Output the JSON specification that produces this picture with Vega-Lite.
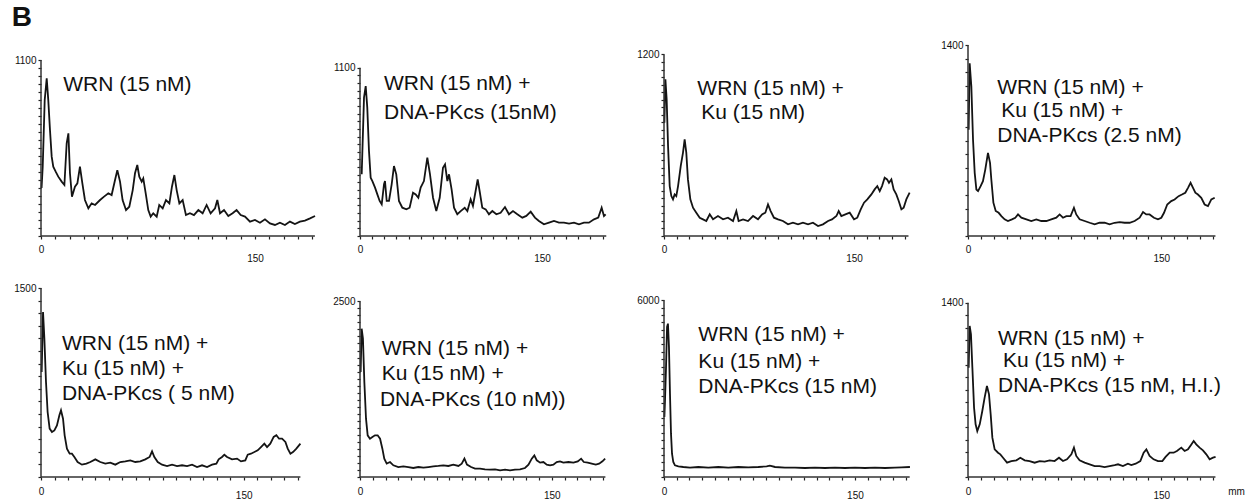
{
"$schema": "https://vega.github.io/schema/vega-lite/v6.json",
"padding": {"left": 11, "top": 4, "right": 0, "bottom": 0},
"title": {"text": "B", "anchor": "start", "fontSize": 28, "fontWeight": "bold", "font": "Liberation Sans", "color": "#111", "offset": 8, "dx": -2},
"config": {
  "view": {"stroke": null},
  "axis": {"domain": false, "grid": false, "tickColor": "#222", "tickSize": 3, "tickWidth": 1.2, "labelFont": "Liberation Sans", "labelFontSize": 10, "labelColor": "#111", "labelOverlap": false, "labelBound": false, "labelFlush": false},
  "line": {"color": "#141414", "strokeWidth": 1.8},
  "rule": {"color": "#333", "strokeWidth": 1.5},
  "text": {"font": "Liberation Sans", "fontSize": 21, "color": "#111", "align": "left", "baseline": "middle"}
},
"columns": 4,
"spacing": {"row": 50, "column": 20},
"bounds": "flush",
"align": "each",
"concat": [
 {"width": 299, "height": 191,
  "encoding": {
    "x": {"field": "mm", "type": "quantitative", "scale": {"domain": [0, 209.6], "nice": false}, "axis": {"title": null, "values": [0,10,20,30,40,50,60,70,80,90,100,110,120,130,140,150,160,170,180,190], "labelExpr": "datum.value == 0 || datum.value == 150 ? datum.label : ''", "labelPadding": {"condition": {"test": "datum.value == 150", "value": 14}, "value": 5}}},
    "y": {"field": "v", "type": "quantitative", "scale": {"domain": [0, 1194], "nice": false}, "axis": {"title": null, "values": [0,50,100,150,200,250,300,350,400,450,500,550,600,650,700,750,800,850,900,950,1000,1050,1100], "labelExpr": "datum.value == 1100 ? '1100' : ''", "labelPadding": 2}}},
  "layer": [
   {"data": {"name": "p1"}, "mark": "line"},
   {"data": {"name": "frames"}, "transform": [{"filter": "datum.panel == 1 && datum.kind == 'x'"}], "mark": "rule", "encoding": {"x2": {"field": "mm2"}}},
   {"data": {"name": "frames"}, "transform": [{"filter": "datum.panel == 1 && datum.kind == 'y'"}], "mark": "rule", "encoding": {"y2": {"field": "v2"}}},
   {"data": {"name": "labels"}, "transform": [{"filter": "datum.panel == 1"}], "mark": "text", "encoding": {"text": {"field": "t"}}}
  ]},
 {"width": 284, "height": 191,
  "encoding": {
    "x": {"field": "mm", "type": "quantitative", "scale": {"domain": [0, 234.1], "nice": false}, "axis": {"title": null, "values": [0,10,20,30,40,50,60,70,80,90,100,110,120,130,140,150,160,170,180,190,200], "labelExpr": "datum.value == 0 || datum.value == 150 ? datum.label : ''", "labelPadding": {"condition": {"test": "datum.value == 150", "value": 14}, "value": 5}}},
    "y": {"field": "v", "type": "quantitative", "scale": {"domain": [0, 1248], "nice": false}, "axis": {"title": null, "values": [0,50,100,150,200,250,300,350,400,450,500,550,600,650,700,750,800,850,900,950,1000,1050,1100], "labelExpr": "datum.value == 1100 ? '1100' : ''", "labelPadding": 2}}},
  "layer": [
   {"data": {"name": "p2"}, "mark": "line"},
   {"data": {"name": "frames"}, "transform": [{"filter": "datum.panel == 2 && datum.kind == 'x'"}], "mark": "rule", "encoding": {"x2": {"field": "mm2"}}},
   {"data": {"name": "frames"}, "transform": [{"filter": "datum.panel == 2 && datum.kind == 'y'"}], "mark": "rule", "encoding": {"y2": {"field": "v2"}}},
   {"data": {"name": "labels"}, "transform": [{"filter": "datum.panel == 2"}], "mark": "text", "encoding": {"text": {"field": "t"}}}
  ]},
 {"width": 284, "height": 191,
  "encoding": {
    "x": {"field": "mm", "type": "quantitative", "scale": {"domain": [0, 224.2], "nice": false}, "axis": {"title": null, "values": [0,10,20,30,40,50,60,70,80,90,100,110,120,130,140,150,160,170,180,190], "labelExpr": "datum.value == 0 || datum.value == 150 ? datum.label : ''", "labelPadding": {"condition": {"test": "datum.value == 150", "value": 14}, "value": 5}}},
    "y": {"field": "v", "type": "quantitative", "scale": {"domain": [0, 1262], "nice": false}, "axis": {"title": null, "values": [0,50,100,150,200,250,300,350,400,450,500,550,600,650,700,750,800,850,900,950,1000,1050,1100,1150,1200], "labelExpr": "datum.value == 1200 ? '1200' : ''", "labelPadding": 2}}},
  "layer": [
   {"data": {"name": "p3"}, "mark": "line"},
   {"data": {"name": "frames"}, "transform": [{"filter": "datum.panel == 3 && datum.kind == 'x'"}], "mark": "rule", "encoding": {"x2": {"field": "mm2"}}},
   {"data": {"name": "frames"}, "transform": [{"filter": "datum.panel == 3 && datum.kind == 'y'"}], "mark": "rule", "encoding": {"y2": {"field": "v2"}}},
   {"data": {"name": "labels"}, "transform": [{"filter": "datum.panel == 3"}], "mark": "text", "encoding": {"text": {"field": "t"}}}
  ]},
 {"width": 270, "height": 191,
  "encoding": {
    "x": {"field": "mm", "type": "quantitative", "scale": {"domain": [0, 209.5], "nice": false}, "axis": {"title": null, "values": [0,10,20,30,40,50,60,70,80,90,100,110,120,130,140,150,160,170,180,190], "labelExpr": "datum.value == 0 || datum.value == 150 ? datum.label : ''", "labelPadding": {"condition": {"test": "datum.value == 150", "value": 14}, "value": 5}}},
    "y": {"field": "v", "type": "quantitative", "scale": {"domain": [0, 1400], "nice": false}, "axis": {"title": null, "values": [0,100,200,300,400,500,600,700,800,900,1000,1100,1200,1300,1400], "labelExpr": "datum.value == 1400 ? '1400' : ''", "labelPadding": 2}}},
  "layer": [
   {"data": {"name": "p4"}, "mark": "line"},
   {"data": {"name": "frames"}, "transform": [{"filter": "datum.panel == 4 && datum.kind == 'x'"}], "mark": "rule", "encoding": {"x2": {"field": "mm2"}}},
   {"data": {"name": "frames"}, "transform": [{"filter": "datum.panel == 4 && datum.kind == 'y'"}], "mark": "rule", "encoding": {"y2": {"field": "v2"}}},
   {"data": {"name": "labels"}, "transform": [{"filter": "datum.panel == 4"}], "mark": "text", "encoding": {"text": {"field": "t"}}}
  ]},
 {"width": 299, "height": 191,
  "encoding": {
    "x": {"field": "mm", "type": "quantitative", "scale": {"domain": [0, 221.3], "nice": false}, "axis": {"title": null, "values": [0,10,20,30,40,50,60,70,80,90,100,110,120,130,140,150,160,170,180,190], "labelExpr": "datum.value == 0 || datum.value == 150 ? datum.label : ''", "labelPadding": {"condition": {"test": "datum.value == 150", "value": 10}, "value": 6}}},
    "y": {"field": "v", "type": "quantitative", "scale": {"domain": [0, 1516], "nice": false}, "axis": {"title": null, "values": [0,100,200,300,400,500,600,700,800,900,1000,1100,1200,1300,1400,1500], "labelExpr": "datum.value == 1500 ? '1500' : ''", "labelPadding": 2}}},
  "layer": [
   {"data": {"name": "p5"}, "mark": "line"},
   {"data": {"name": "frames"}, "transform": [{"filter": "datum.panel == 5 && datum.kind == 'x'"}], "mark": "rule", "encoding": {"x2": {"field": "mm2"}}},
   {"data": {"name": "frames"}, "transform": [{"filter": "datum.panel == 5 && datum.kind == 'y'"}], "mark": "rule", "encoding": {"y2": {"field": "v2"}}},
   {"data": {"name": "labels"}, "transform": [{"filter": "datum.panel == 5"}], "mark": "text", "encoding": {"text": {"field": "t"}}}
  ]},
 {"width": 284, "height": 191,
  "encoding": {
    "x": {"field": "mm", "type": "quantitative", "scale": {"domain": [0, 222.2], "nice": false}, "axis": {"title": null, "values": [0,10,20,30,40,50,60,70,80,90,100,110,120,130,140,150,160,170,180,190], "labelExpr": "datum.value == 0 || datum.value == 150 ? datum.label : ''", "labelPadding": {"condition": {"test": "datum.value == 150", "value": 10}, "value": 6}}},
    "y": {"field": "v", "type": "quantitative", "scale": {"domain": [0, 2718], "nice": false}, "axis": {"title": null, "values": [0,100,200,300,400,500,600,700,800,900,1000,1100,1200,1300,1400,1500,1600,1700,1800,1900,2000,2100,2200,2300,2400,2500], "labelExpr": "datum.value == 2500 ? '2500' : ''", "labelPadding": 2}}},
  "layer": [
   {"data": {"name": "p6"}, "mark": "line"},
   {"data": {"name": "frames"}, "transform": [{"filter": "datum.panel == 6 && datum.kind == 'x'"}], "mark": "rule", "encoding": {"x2": {"field": "mm2"}}},
   {"data": {"name": "frames"}, "transform": [{"filter": "datum.panel == 6 && datum.kind == 'y'"}], "mark": "rule", "encoding": {"y2": {"field": "v2"}}},
   {"data": {"name": "labels"}, "transform": [{"filter": "datum.panel == 6"}], "mark": "text", "encoding": {"text": {"field": "t"}}}
  ]},
 {"width": 284, "height": 191,
  "encoding": {
    "x": {"field": "mm", "type": "quantitative", "scale": {"domain": [0, 223.1], "nice": false}, "axis": {"title": null, "values": [0,10,20,30,40,50,60,70,80,90,100,110,120,130,140,150,160,170,180,190], "labelExpr": "datum.value == 0 || datum.value == 150 ? datum.label : ''", "labelPadding": {"condition": {"test": "datum.value == 150", "value": 10}, "value": 6}}},
    "y": {"field": "v", "type": "quantitative", "scale": {"domain": [0, 6486], "nice": false}, "axis": {"title": null, "values": [0,250,500,750,1000,1250,1500,1750,2000,2250,2500,2750,3000,3250,3500,3750,4000,4250,4500,4750,5000,5250,5500,5750,6000], "labelExpr": "datum.value == 6000 ? '6000' : ''", "labelPadding": 2}}},
  "layer": [
   {"data": {"name": "p7"}, "mark": "line"},
   {"data": {"name": "frames"}, "transform": [{"filter": "datum.panel == 7 && datum.kind == 'x'"}], "mark": "rule", "encoding": {"x2": {"field": "mm2"}}},
   {"data": {"name": "frames"}, "transform": [{"filter": "datum.panel == 7 && datum.kind == 'y'"}], "mark": "rule", "encoding": {"y2": {"field": "v2"}}},
   {"data": {"name": "labels"}, "transform": [{"filter": "datum.panel == 7"}], "mark": "text", "encoding": {"text": {"field": "t"}}}
  ]},
 {"width": 270, "height": 191,
  "encoding": {
    "x": {"field": "mm", "type": "quantitative", "scale": {"domain": [0, 209.5], "nice": false}, "axis": {"title": "mm", "titleX": 268, "titleY": 14, "titleAlign": "center", "titleBaseline": "middle", "titleFontSize": 10, "titleFontWeight": "normal", "titleFont": "Liberation Sans", "titleColor": "#111", "values": [0,10,20,30,40,50,60,70,80,90,100,110,120,130,140,150,160,170,180,190], "labelExpr": "datum.value == 0 || datum.value == 150 ? datum.label : ''", "labelPadding": {"condition": {"test": "datum.value == 150", "value": 10}, "value": 6}}},
    "y": {"field": "v", "type": "quantitative", "scale": {"domain": [0, 1534], "nice": false}, "axis": {"title": null, "values": [0,100,200,300,400,500,600,700,800,900,1000,1100,1200,1300,1400], "labelExpr": "datum.value == 1400 ? '1400' : ''", "labelPadding": 2}}},
  "layer": [
   {"data": {"name": "p8"}, "mark": "line"},
   {"data": {"name": "frames"}, "transform": [{"filter": "datum.panel == 8 && datum.kind == 'x'"}], "mark": "rule", "encoding": {"x2": {"field": "mm2"}}},
   {"data": {"name": "frames"}, "transform": [{"filter": "datum.panel == 8 && datum.kind == 'y'"}], "mark": "rule", "encoding": {"y2": {"field": "v2"}}},
   {"data": {"name": "labels"}, "transform": [{"filter": "datum.panel == 8"}], "mark": "text", "encoding": {"text": {"field": "t"}}}
  ]}
],
"datasets": {
 "frames": [
  {"panel":1,"kind":"x","mm":0,"mm2":192,"v":0},{"panel":1,"kind":"y","mm":0,"v":0,"v2":1100},
  {"panel":2,"kind":"x","mm":0,"mm2":203,"v":0},{"panel":2,"kind":"y","mm":0,"v":0,"v2":1100},
  {"panel":3,"kind":"x","mm":0,"mm2":193,"v":0},{"panel":3,"kind":"y","mm":0,"v":0,"v2":1200},
  {"panel":4,"kind":"x","mm":0,"mm2":192,"v":0},{"panel":4,"kind":"y","mm":0,"v":0,"v2":1400},
  {"panel":5,"kind":"x","mm":0,"mm2":192,"v":0},{"panel":5,"kind":"y","mm":0,"v":0,"v2":1500},
  {"panel":6,"kind":"x","mm":0,"mm2":192,"v":0},{"panel":6,"kind":"y","mm":0,"v":0,"v2":2500},
  {"panel":7,"kind":"x","mm":0,"mm2":193,"v":0},{"panel":7,"kind":"y","mm":0,"v":0,"v2":6000},
  {"panel":8,"kind":"x","mm":0,"mm2":192,"v":0},{"panel":8,"kind":"y","mm":0,"v":0,"v2":1400}
 ],
 "labels": [
  {"panel":1,"mm":15.6,"v":944,"t":"WRN (15 nM)"},
  {"panel":2,"mm":19.8,"v":993,"t":"WRN (15 nM) +"},
  {"panel":2,"mm":19.8,"v":804,"t":"DNA-PKcs (15nM)"},
  {"panel":3,"mm":26.3,"v":969,"t":"WRN (15 nM) +"},
  {"panel":3,"mm":29.4,"v":811,"t":"Ku (15 nM)"},
  {"panel":4,"mm":22.7,"v":1084,"t":"WRN (15 nM) +"},
  {"panel":4,"mm":25.8,"v":913,"t":"Ku (15 nM) +"},
  {"panel":4,"mm":22.7,"v":736,"t":"DNA-PKcs (2.5 nM)"},
  {"panel":5,"mm":15.5,"v":1058,"t":"WRN (15 nM) +"},
  {"panel":5,"mm":15.5,"v":860,"t":"Ku (15 nM) +"},
  {"panel":5,"mm":15.5,"v":661,"t":"DNA-PKcs ( 5 nM)"},
  {"panel":6,"mm":17.0,"v":1817,"t":"WRN (15 nM) +"},
  {"panel":6,"mm":17.0,"v":1470,"t":"Ku (15 nM) +"},
  {"panel":6,"mm":15.6,"v":1091,"t":"DNA-PKcs (10 nM))"},
  {"panel":7,"mm":27.0,"v":4812,"t":"WRN (15 nM) +"},
  {"panel":7,"mm":27.0,"v":3905,"t":"Ku (15 nM) +"},
  {"panel":7,"mm":27.0,"v":3056,"t":"DNA-PKcs (15 nM)"},
  {"panel":8,"mm":23.3,"v":1105,"t":"WRN (15 nM) +"},
  {"panel":8,"mm":27.2,"v":931,"t":"Ku (15 nM) +"},
  {"panel":8,"mm":23.3,"v":731,"t":"DNA-PKcs (15 nM, H.I.)"}
 ],
 "p1": [
  {"mm":0.4,"v":300},{"mm":1.2,"v":433},{"mm":2.6,"v":850},{"mm":4.0,"v":985},{"mm":5.1,"v":850},{"mm":6.3,"v":662},{"mm":7.5,"v":496},{"mm":8.6,"v":433},{"mm":10.3,"v":402},{"mm":12.1,"v":371},{"mm":14.5,"v":340},{"mm":16.4,"v":319},{"mm":18.0,"v":579},{"mm":19.2,"v":642},{"mm":20.3,"v":392},{"mm":21.7,"v":246},{"mm":23.8,"v":308},{"mm":25.5,"v":329},{"mm":27.3,"v":433},{"mm":29.0,"v":329},{"mm":30.8,"v":225},{"mm":33.2,"v":173},{"mm":35.5,"v":204},{"mm":37.9,"v":194},{"mm":41.4,"v":225},{"mm":44.2,"v":246},{"mm":47.2,"v":267},{"mm":49.5,"v":256},{"mm":51.9,"v":350},{"mm":53.5,"v":412},{"mm":55.4,"v":340},{"mm":57.2,"v":225},{"mm":59.6,"v":162},{"mm":61.9,"v":183},{"mm":64.3,"v":287},{"mm":65.9,"v":392},{"mm":67.5,"v":444},{"mm":68.9,"v":371},{"mm":70.6,"v":340},{"mm":71.7,"v":360},{"mm":73.4,"v":267},{"mm":75.2,"v":162},{"mm":76.9,"v":121},{"mm":78.7,"v":142},{"mm":81.1,"v":121},{"mm":82.9,"v":194},{"mm":85.3,"v":173},{"mm":87.6,"v":225},{"mm":90.0,"v":204},{"mm":91.8,"v":308},{"mm":93.5,"v":381},{"mm":95.1,"v":287},{"mm":97.0,"v":204},{"mm":99.3,"v":225},{"mm":101.6,"v":131},{"mm":104.4,"v":142},{"mm":107.2,"v":131},{"mm":110.3,"v":162},{"mm":113.3,"v":142},{"mm":116.1,"v":194},{"mm":118.9,"v":142},{"mm":122.0,"v":173},{"mm":123.6,"v":225},{"mm":125.5,"v":142},{"mm":128.3,"v":162},{"mm":131.3,"v":125},{"mm":134.3,"v":142},{"mm":137.1,"v":162},{"mm":140.0,"v":131},{"mm":143.0,"v":121},{"mm":146.5,"v":90},{"mm":150.0,"v":100},{"mm":153.5,"v":83},{"mm":157.0,"v":104},{"mm":160.5,"v":79},{"mm":164.0,"v":69},{"mm":167.5,"v":83},{"mm":171.0,"v":69},{"mm":174.5,"v":90},{"mm":178.0,"v":75},{"mm":181.5,"v":90},{"mm":185.0,"v":96},{"mm":188.6,"v":110},{"mm":192.1,"v":125}
 ],
 "p2": [
  {"mm":1.4,"v":403},{"mm":3.3,"v":904},{"mm":4.7,"v":980},{"mm":6.0,"v":839},{"mm":7.4,"v":556},{"mm":8.8,"v":381},{"mm":10.2,"v":359},{"mm":12.4,"v":316},{"mm":14.3,"v":272},{"mm":16.2,"v":229},{"mm":17.9,"v":207},{"mm":19.8,"v":338},{"mm":20.6,"v":359},{"mm":22.0,"v":229},{"mm":23.9,"v":229},{"mm":26.1,"v":338},{"mm":28.0,"v":457},{"mm":29.9,"v":403},{"mm":32.1,"v":229},{"mm":34.9,"v":185},{"mm":38.2,"v":174},{"mm":40.9,"v":185},{"mm":43.7,"v":283},{"mm":45.9,"v":272},{"mm":48.1,"v":250},{"mm":50.0,"v":316},{"mm":52.7,"v":359},{"mm":55.5,"v":512},{"mm":57.7,"v":403},{"mm":60.2,"v":250},{"mm":62.9,"v":163},{"mm":65.7,"v":250},{"mm":68.4,"v":446},{"mm":70.1,"v":468},{"mm":72.0,"v":359},{"mm":73.4,"v":403},{"mm":75.5,"v":305},{"mm":77.5,"v":185},{"mm":80.2,"v":142},{"mm":83.0,"v":163},{"mm":86.3,"v":185},{"mm":88.5,"v":163},{"mm":91.2,"v":240},{"mm":93.1,"v":196},{"mm":95.3,"v":294},{"mm":97.0,"v":370},{"mm":98.6,"v":294},{"mm":100.8,"v":185},{"mm":103.6,"v":174},{"mm":106.3,"v":142},{"mm":109.1,"v":163},{"mm":112.4,"v":142},{"mm":115.9,"v":152},{"mm":119.5,"v":189},{"mm":122.8,"v":142},{"mm":126.1,"v":163},{"mm":129.7,"v":142},{"mm":133.8,"v":120},{"mm":137.1,"v":131},{"mm":140.7,"v":159},{"mm":144.2,"v":120},{"mm":147.5,"v":98},{"mm":151.6,"v":76},{"mm":155.8,"v":87},{"mm":159.9,"v":98},{"mm":164.0,"v":87},{"mm":168.1,"v":87},{"mm":172.3,"v":81},{"mm":176.4,"v":87},{"mm":180.5,"v":76},{"mm":184.6,"v":87},{"mm":188.7,"v":87},{"mm":192.9,"v":109},{"mm":196.4,"v":120},{"mm":199.2,"v":185},{"mm":201.1,"v":131},{"mm":202.5,"v":142}
 ],
 "p3": [
  {"mm":0.3,"v":749},{"mm":1.1,"v":1035},{"mm":2.1,"v":903},{"mm":3.2,"v":595},{"mm":4.5,"v":330},{"mm":5.8,"v":264},{"mm":7.1,"v":242},{"mm":8.4,"v":275},{"mm":9.7,"v":264},{"mm":11.1,"v":330},{"mm":13.2,"v":462},{"mm":15.0,"v":551},{"mm":16.3,"v":639},{"mm":17.6,"v":551},{"mm":18.9,"v":374},{"mm":20.8,"v":242},{"mm":22.9,"v":187},{"mm":25.5,"v":154},{"mm":28.2,"v":121},{"mm":30.8,"v":110},{"mm":33.4,"v":99},{"mm":36.1,"v":143},{"mm":38.7,"v":110},{"mm":42.6,"v":132},{"mm":46.6,"v":110},{"mm":50.5,"v":121},{"mm":54.5,"v":99},{"mm":57.1,"v":165},{"mm":58.9,"v":99},{"mm":62.4,"v":110},{"mm":66.3,"v":99},{"mm":70.3,"v":132},{"mm":74.2,"v":110},{"mm":77.4,"v":143},{"mm":80.0,"v":154},{"mm":82.1,"v":209},{"mm":84.2,"v":165},{"mm":86.8,"v":121},{"mm":90.0,"v":110},{"mm":93.9,"v":99},{"mm":97.9,"v":77},{"mm":101.8,"v":88},{"mm":105.8,"v":77},{"mm":109.7,"v":88},{"mm":113.7,"v":77},{"mm":117.6,"v":88},{"mm":121.6,"v":66},{"mm":125.5,"v":77},{"mm":129.5,"v":99},{"mm":132.6,"v":110},{"mm":136.1,"v":132},{"mm":137.9,"v":165},{"mm":140.0,"v":132},{"mm":143.2,"v":143},{"mm":146.6,"v":154},{"mm":150.0,"v":110},{"mm":152.6,"v":121},{"mm":155.3,"v":176},{"mm":157.9,"v":220},{"mm":160.5,"v":242},{"mm":163.7,"v":275},{"mm":166.3,"v":308},{"mm":168.4,"v":330},{"mm":170.3,"v":297},{"mm":172.1,"v":330},{"mm":174.2,"v":385},{"mm":176.1,"v":374},{"mm":177.6,"v":352},{"mm":179.5,"v":374},{"mm":181.3,"v":308},{"mm":183.4,"v":275},{"mm":185.3,"v":231},{"mm":187.4,"v":176},{"mm":189.2,"v":187},{"mm":191.3,"v":242},{"mm":193.9,"v":286}
 ],
 "p4": [
  {"mm":0.5,"v":779},{"mm":1.3,"v":1266},{"mm":2.6,"v":1096},{"mm":3.9,"v":706},{"mm":5.2,"v":463},{"mm":6.5,"v":341},{"mm":7.8,"v":329},{"mm":9.8,"v":365},{"mm":11.6,"v":402},{"mm":13.4,"v":487},{"mm":15.5,"v":609},{"mm":17.1,"v":536},{"mm":18.1,"v":414},{"mm":19.7,"v":244},{"mm":21.5,"v":183},{"mm":23.8,"v":170},{"mm":25.9,"v":146},{"mm":28.4,"v":122},{"mm":31.0,"v":110},{"mm":34.1,"v":122},{"mm":36.7,"v":134},{"mm":38.8,"v":158},{"mm":41.4,"v":134},{"mm":45.3,"v":122},{"mm":49.1,"v":110},{"mm":53.0,"v":122},{"mm":56.9,"v":110},{"mm":60.8,"v":110},{"mm":64.6,"v":122},{"mm":68.5,"v":134},{"mm":71.1,"v":158},{"mm":73.7,"v":134},{"mm":76.3,"v":146},{"mm":79.6,"v":146},{"mm":82.2,"v":207},{"mm":84.0,"v":158},{"mm":86.6,"v":122},{"mm":90.5,"v":110},{"mm":94.4,"v":97},{"mm":98.3,"v":85},{"mm":102.1,"v":97},{"mm":106.0,"v":97},{"mm":109.9,"v":85},{"mm":113.8,"v":97},{"mm":117.7,"v":102},{"mm":121.5,"v":97},{"mm":125.4,"v":97},{"mm":129.3,"v":110},{"mm":133.2,"v":134},{"mm":135.8,"v":175},{"mm":138.3,"v":158},{"mm":140.9,"v":158},{"mm":144.3,"v":134},{"mm":147.4,"v":122},{"mm":150.0,"v":134},{"mm":152.1,"v":170},{"mm":154.6,"v":231},{"mm":157.7,"v":256},{"mm":160.3,"v":268},{"mm":163.4,"v":292},{"mm":166.0,"v":304},{"mm":168.6,"v":317},{"mm":170.7,"v":353},{"mm":172.7,"v":390},{"mm":174.6,"v":353},{"mm":176.4,"v":317},{"mm":178.4,"v":304},{"mm":181.0,"v":280},{"mm":183.6,"v":231},{"mm":186.2,"v":219},{"mm":188.8,"v":268},{"mm":191.4,"v":280}
 ],
 "p5": [
  {"mm":0.5,"v":833},{"mm":1.5,"v":1310},{"mm":2.5,"v":1098},{"mm":3.7,"v":754},{"mm":4.9,"v":516},{"mm":6.4,"v":384},{"mm":8.1,"v":357},{"mm":9.9,"v":370},{"mm":11.8,"v":410},{"mm":13.6,"v":490},{"mm":14.8,"v":529},{"mm":16.3,"v":463},{"mm":17.5,"v":331},{"mm":19.2,"v":225},{"mm":21.2,"v":185},{"mm":22.9,"v":185},{"mm":24.7,"v":159},{"mm":27.1,"v":119},{"mm":30.3,"v":98},{"mm":33.6,"v":106},{"mm":36.5,"v":119},{"mm":40.2,"v":140},{"mm":43.9,"v":119},{"mm":47.6,"v":106},{"mm":51.3,"v":114},{"mm":55.0,"v":98},{"mm":58.7,"v":119},{"mm":62.4,"v":124},{"mm":66.1,"v":132},{"mm":69.8,"v":119},{"mm":73.5,"v":124},{"mm":77.2,"v":140},{"mm":80.4,"v":159},{"mm":82.2,"v":204},{"mm":83.9,"v":159},{"mm":86.4,"v":119},{"mm":89.6,"v":98},{"mm":93.3,"v":87},{"mm":97.0,"v":98},{"mm":100.7,"v":87},{"mm":104.4,"v":93},{"mm":108.1,"v":87},{"mm":111.8,"v":98},{"mm":115.5,"v":79},{"mm":119.2,"v":93},{"mm":122.9,"v":79},{"mm":126.6,"v":98},{"mm":129.8,"v":106},{"mm":131.5,"v":140},{"mm":134.0,"v":159},{"mm":135.7,"v":177},{"mm":137.7,"v":159},{"mm":141.4,"v":140},{"mm":145.1,"v":146},{"mm":148.0,"v":124},{"mm":151.2,"v":132},{"mm":153.0,"v":177},{"mm":155.4,"v":185},{"mm":157.9,"v":198},{"mm":160.4,"v":212},{"mm":162.8,"v":238},{"mm":165.3,"v":265},{"mm":167.3,"v":238},{"mm":169.7,"v":265},{"mm":172.2,"v":318},{"mm":174.2,"v":331},{"mm":176.2,"v":304},{"mm":178.4,"v":304},{"mm":180.9,"v":278},{"mm":182.6,"v":225},{"mm":184.6,"v":185},{"mm":186.5,"v":198},{"mm":189.0,"v":225},{"mm":192.0,"v":265}
 ],
 "p6": [
  {"mm":0.5,"v":1494},{"mm":1.3,"v":2111},{"mm":2.3,"v":1969},{"mm":3.4,"v":1352},{"mm":4.7,"v":830},{"mm":6.0,"v":593},{"mm":7.8,"v":545},{"mm":9.7,"v":569},{"mm":11.7,"v":593},{"mm":13.8,"v":593},{"mm":15.7,"v":545},{"mm":17.5,"v":403},{"mm":19.0,"v":261},{"mm":20.9,"v":190},{"mm":23.5,"v":213},{"mm":26.1,"v":166},{"mm":30.0,"v":142},{"mm":33.9,"v":152},{"mm":37.8,"v":142},{"mm":41.7,"v":128},{"mm":45.7,"v":142},{"mm":49.6,"v":133},{"mm":53.5,"v":142},{"mm":57.4,"v":152},{"mm":61.3,"v":157},{"mm":65.2,"v":166},{"mm":69.1,"v":157},{"mm":73.0,"v":176},{"mm":77.0,"v":157},{"mm":79.6,"v":190},{"mm":81.7,"v":261},{"mm":83.7,"v":176},{"mm":86.9,"v":142},{"mm":90.0,"v":119},{"mm":93.9,"v":119},{"mm":97.8,"v":109},{"mm":101.7,"v":104},{"mm":105.7,"v":109},{"mm":109.6,"v":95},{"mm":113.5,"v":104},{"mm":117.4,"v":95},{"mm":121.3,"v":104},{"mm":125.2,"v":109},{"mm":129.1,"v":128},{"mm":131.8,"v":176},{"mm":134.4,"v":261},{"mm":136.4,"v":308},{"mm":138.3,"v":237},{"mm":140.9,"v":204},{"mm":143.5,"v":213},{"mm":146.1,"v":176},{"mm":148.7,"v":166},{"mm":151.3,"v":176},{"mm":153.9,"v":213},{"mm":156.5,"v":223},{"mm":159.1,"v":204},{"mm":163.1,"v":213},{"mm":167.0,"v":204},{"mm":170.4,"v":223},{"mm":173.0,"v":261},{"mm":175.1,"v":213},{"mm":178.2,"v":204},{"mm":181.3,"v":190},{"mm":184.5,"v":176},{"mm":187.1,"v":190},{"mm":189.7,"v":223},{"mm":191.8,"v":261}
 ],
 "p7": [
  {"mm":0.3,"v":2038},{"mm":0.8,"v":2604},{"mm":1.6,"v":3736},{"mm":2.4,"v":5094},{"mm":3.1,"v":5207},{"mm":3.9,"v":4415},{"mm":4.7,"v":2830},{"mm":5.5,"v":1472},{"mm":6.3,"v":792},{"mm":7.3,"v":509},{"mm":8.6,"v":396},{"mm":11.3,"v":362},{"mm":15.2,"v":340},{"mm":20.4,"v":317},{"mm":27.0,"v":340},{"mm":34.8,"v":317},{"mm":42.7,"v":340},{"mm":50.5,"v":317},{"mm":58.4,"v":340},{"mm":66.2,"v":328},{"mm":74.1,"v":340},{"mm":80.6,"v":362},{"mm":83.2,"v":385},{"mm":87.2,"v":340},{"mm":95.0,"v":317},{"mm":102.9,"v":317},{"mm":110.7,"v":306},{"mm":118.6,"v":317},{"mm":126.4,"v":306},{"mm":134.3,"v":317},{"mm":142.1,"v":306},{"mm":150.0,"v":317},{"mm":157.9,"v":306},{"mm":165.7,"v":317},{"mm":173.6,"v":306},{"mm":181.4,"v":317},{"mm":186.6,"v":328},{"mm":193.2,"v":340}
 ],
 "p8": [
  {"mm":0.5,"v":878},{"mm":1.3,"v":1213},{"mm":2.3,"v":1146},{"mm":3.4,"v":878},{"mm":4.7,"v":557},{"mm":5.9,"v":423},{"mm":7.2,"v":369},{"mm":9.1,"v":423},{"mm":11.1,"v":530},{"mm":12.9,"v":637},{"mm":14.7,"v":731},{"mm":16.3,"v":664},{"mm":17.6,"v":503},{"mm":18.9,"v":316},{"mm":20.7,"v":222},{"mm":23.3,"v":195},{"mm":25.1,"v":182},{"mm":27.2,"v":155},{"mm":30.3,"v":115},{"mm":33.6,"v":128},{"mm":37.5,"v":134},{"mm":40.6,"v":155},{"mm":44.0,"v":134},{"mm":47.8,"v":128},{"mm":51.7,"v":115},{"mm":55.6,"v":128},{"mm":59.5,"v":123},{"mm":63.4,"v":134},{"mm":67.2,"v":128},{"mm":70.6,"v":155},{"mm":73.7,"v":128},{"mm":76.8,"v":142},{"mm":80.2,"v":182},{"mm":82.2,"v":236},{"mm":84.0,"v":169},{"mm":86.6,"v":134},{"mm":90.5,"v":115},{"mm":94.4,"v":102},{"mm":98.3,"v":88},{"mm":102.1,"v":88},{"mm":106.0,"v":80},{"mm":109.9,"v":88},{"mm":113.8,"v":96},{"mm":116.4,"v":102},{"mm":120.2,"v":88},{"mm":124.1,"v":107},{"mm":126.7,"v":96},{"mm":130.1,"v":107},{"mm":133.7,"v":128},{"mm":136.3,"v":195},{"mm":138.4,"v":222},{"mm":140.9,"v":169},{"mm":144.0,"v":142},{"mm":147.4,"v":128},{"mm":150.8,"v":128},{"mm":153.3,"v":161},{"mm":156.5,"v":195},{"mm":159.6,"v":195},{"mm":162.1,"v":209},{"mm":165.5,"v":236},{"mm":168.1,"v":209},{"mm":170.7,"v":222},{"mm":173.3,"v":262},{"mm":175.1,"v":289},{"mm":177.1,"v":262},{"mm":179.7,"v":236},{"mm":182.3,"v":214},{"mm":184.9,"v":182},{"mm":187.5,"v":142},{"mm":190.1,"v":155},{"mm":192.1,"v":161}
 ]
}
}
